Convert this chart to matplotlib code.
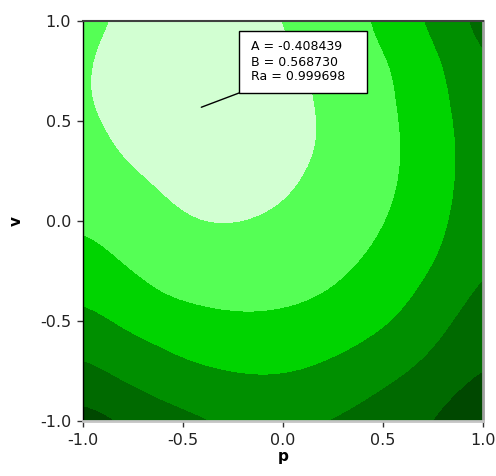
import numpy as np
import matplotlib
matplotlib.use("Agg")
import matplotlib.pyplot as plt
from matplotlib.colors import ListedColormap, BoundaryNorm
from matplotlib.patches import Rectangle

# grid coordinates
p_vals = [-1.0, -0.8, -0.6, -0.4, -0.2, 0.0, 0.2, 0.4, 0.6, 0.8, 1.0]
v_vals = [-1.0, -0.8, -0.6, -0.4, -0.2, 0.0, 0.2, 0.4, 0.6, 0.8, 1.0]

# response values estimated from the contour bands (rows: v from -1 to 1, cols: p from -1 to 1)
z_rows = [
    [0.52, 0.86, 1.46, 1.83, 2.02, 2.04, 1.91, 1.67, 1.24, 0.80, 0.14],
    [1.50, 2.08, 2.59, 2.74, 2.92, 2.95, 2.74, 2.36, 1.89, 1.405, 0.79],
    [2.33, 2.82, 3.05, 3.43, 3.58, 3.51, 3.33, 3.05, 2.63, 1.92, 1.29],
    [3.045, 3.45, 3.98, 4.12, 4.19, 4.15, 3.955, 3.57, 3.15, 2.42, 1.68],
    [3.55, 4.08, 4.44, 4.67, 4.68, 4.58, 4.37, 4.00, 3.52, 2.92, 2.04],
    [4.16, 4.48, 4.84, 5.04, 5.03, 4.88, 4.60, 4.29, 3.80, 3.17, 2.26],
    [4.53, 4.82, 5.09, 5.35, 5.31, 5.17, 4.82, 4.50, 3.96, 3.30, 2.37],
    [4.74, 5.13, 5.44, 5.49, 5.45, 5.28, 4.99, 4.55, 4.00, 3.32, 2.355],
    [4.90, 5.295, 5.47, 5.53, 5.475, 5.27, 4.94, 4.495, 3.905, 3.20, 2.22],
    [4.89, 5.26, 5.42, 5.465, 5.35, 5.14, 4.88, 4.35, 3.87, 3.04, 1.97],
    [4.84, 5.05, 5.20, 5.20, 5.14, 5.02, 4.55, 4.13, 3.35, 2.56, 1.52],
]

band_levels = [-5, 1, 2, 3, 4, 5, 10]
band_colors = ["#004800", "#006A00", "#008F00", "#00D400", "#55FF55", "#D2FFD2"]

opt_A = -0.408439
opt_B = 0.568730
opt_Ra = 0.999698

tick_vals = [-1.0, -0.5, 0.0, 0.5, 1.0]
tick_labels = ["-1.0", "-0.5", "0.0", "0.5", "1.0"]

plt.rcParams["font.family"] = ["DejaVu Sans"]

fig = plt.figure(figsize=(4.96, 4.76), dpi=100)
ax = fig.add_axes([83 / 496, 1 - 421 / 476, 400 / 496, 400 / 476])

Z = np.array(z_rows)
step = p_vals[1] - p_vals[0]
cmap = ListedColormap(band_colors)
norm = BoundaryNorm(band_levels, cmap.N)
ax.imshow(Z, origin="lower", cmap=cmap, norm=norm,
          extent=(p_vals[0] - step / 2, p_vals[-1] + step / 2,
                  v_vals[0] - step / 2, v_vals[-1] + step / 2),
          interpolation="bicubic", interpolation_stage="data", aspect="auto")

ax.set_xlim(-1, 1)
ax.set_ylim(-1, 1)
ax.set_xticks(tick_vals)
ax.set_xticklabels(tick_labels)
ax.set_yticks(tick_vals)
ax.set_yticklabels(tick_labels)
ax.tick_params(axis="both", direction="out", length=4.5, width=1, colors="#333333",
               labelsize=11.5, labelcolor="#222222", pad=4)

ax.spines["left"].set_color("black")
ax.spines["left"].set_linewidth(1.0)
ax.spines["bottom"].set_color("#c4c4c4")
ax.spines["bottom"].set_linewidth(2.0)
ax.spines["right"].set_color("#a0a0a0")
ax.spines["right"].set_linewidth(2.0)
ax.spines["top"].set_color("#404040")
ax.spines["top"].set_linewidth(1.5)

ax.set_xlabel("p", fontsize=11, fontweight="bold", labelpad=1)
ax.set_ylabel("v", fontsize=11, fontweight="bold", labelpad=12)

# annotation box
box = Rectangle((0.39, 0.82), 0.32, 0.155, transform=ax.transAxes,
                facecolor="white", edgecolor="black", linewidth=1.0, zorder=5)
ax.add_patch(box)
ax.text(0.42, 0.8975,
        "A = %.6f\nB = %.6f\nRa = %.6f" % (opt_A, opt_B, opt_Ra),
        transform=ax.transAxes, ha="left", va="center", fontsize=9,
        linespacing=1.2, color="black", zorder=6)
ax.annotate("", xy=(opt_A, opt_B), xycoords="data",
            xytext=(0.39, 0.82), textcoords="axes fraction",
            arrowprops=dict(arrowstyle="-", color="black", lw=1.0,
                            shrinkA=0, shrinkB=0), zorder=6)

fig.savefig("out.png", dpi=100)
